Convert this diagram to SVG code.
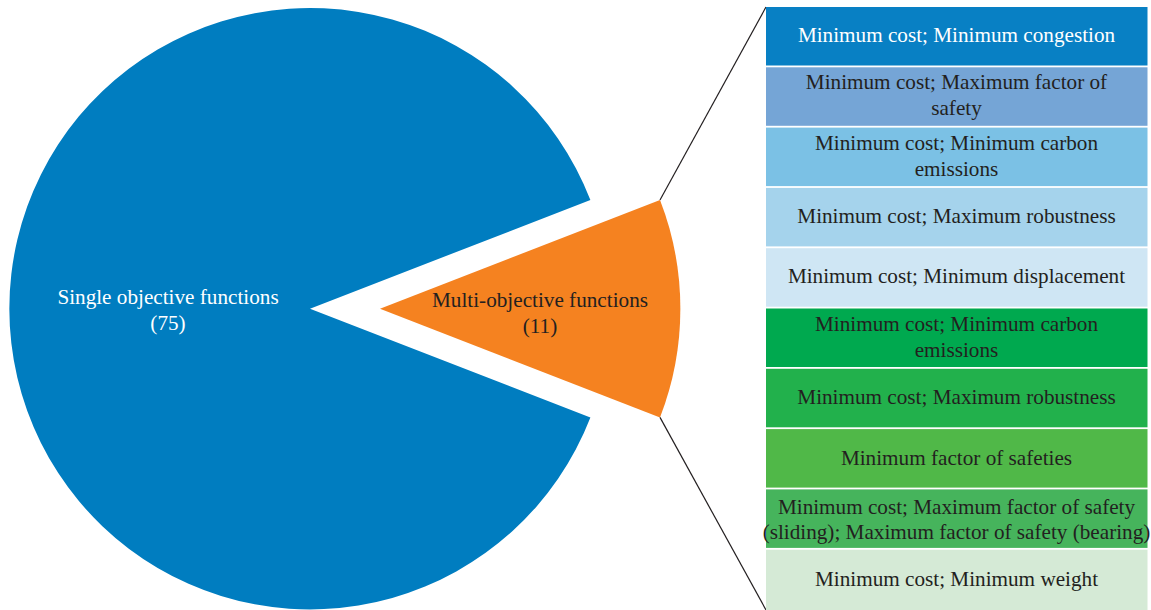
<svg xmlns="http://www.w3.org/2000/svg" width="1151" height="610" viewBox="0 0 1151 610">
<style>
text{font-family:"Liberation Serif","Times New Roman",serif;font-size:21.2px;text-anchor:middle;fill:#231F20}
.w{fill:#ffffff}
.ln{stroke:#231F20;stroke-width:1.2;fill:none}
</style>
<rect width="1151" height="610" fill="#ffffff"/>
<g id="pie-single">
<path d="M310 308.7 L590.4 200 A300.7 300.7 0 1 0 590.4 417.4 Z" fill="#007DC0"/>
<text class="w" x="168" y="304">Single objective functions</text>
<text class="w" x="168" y="330">(75)</text>
</g>
<g id="pie-multi">
<path d="M380 308.7 L660 200 A300.4 300.4 0 0 1 660 417.4 Z" fill="#F58220"/>
<text x="540" y="307">Multi-objective functions</text>
<text x="540" y="333">(11)</text>
</g>
<g id="connectors">
<line class="ln" x1="660" y1="200" x2="766" y2="7"/>
<line class="ln" x1="660" y1="417.4" x2="766" y2="610"/>
</g>
<g id="bar1"><rect x="766" y="7" width="381.5" height="58.5" fill="#0880C4"/><text class="w" x="956.5" y="42">Minimum cost; Minimum congestion</text></g>
<g id="bar2"><rect x="766" y="67.3" width="381.5" height="58.5" fill="#75A5D6"/><text x="956.5" y="89">Minimum cost; Maximum factor of</text><text x="956.5" y="115">safety</text></g>
<g id="bar3"><rect x="766" y="127.6" width="381.5" height="58.5" fill="#7BC1E5"/><text x="956.5" y="150">Minimum cost; Minimum carbon</text><text x="956.5" y="176">emissions</text></g>
<g id="bar4"><rect x="766" y="187.9" width="381.5" height="58.5" fill="#A5D3EC"/><text x="956.5" y="223">Minimum cost; Maximum robustness</text></g>
<g id="bar5"><rect x="766" y="248.2" width="381.5" height="58.5" fill="#CFE6F4"/><text x="956.5" y="283">Minimum cost; Minimum displacement</text></g>
<g id="bar6"><rect x="766" y="308.5" width="381.5" height="58.5" fill="#00A94F"/><text x="956.5" y="331">Minimum cost; Minimum carbon</text><text x="956.5" y="357">emissions</text></g>
<g id="bar7"><rect x="766" y="368.8" width="381.5" height="58.5" fill="#22B14C"/><text x="956.5" y="404">Minimum cost; Maximum robustness</text></g>
<g id="bar8"><rect x="766" y="429.1" width="381.5" height="58.5" fill="#50B848"/><text x="956.5" y="465">Minimum factor of safeties</text></g>
<g id="bar9"><rect x="766" y="489.4" width="381.5" height="58.5" fill="#46B45C"/><text x="956.5" y="514">Minimum cost; Maximum factor of safety</text><text x="956.5" y="539">(sliding); Maximum factor of safety (bearing)</text></g>
<g id="bar10"><rect x="766" y="549.7" width="381.5" height="60.3" fill="#D5EAD6"/><text x="956.5" y="586">Minimum cost; Minimum weight</text></g>
</svg>
